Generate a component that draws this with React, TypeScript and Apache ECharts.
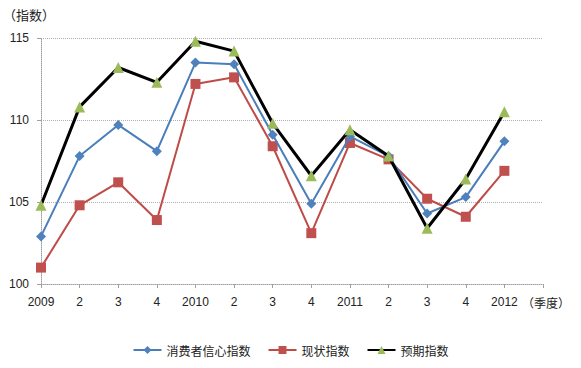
import React, { useEffect, useRef } from "react";
import * as echarts from "echarts";

const categories = ["2009", "2", "3", "4", "2010", "2", "3", "4", "2011", "2", "3", "4", "2012", ""];
const consumerConfidence = [102.9, 107.8, 109.7, 108.1, 113.5, 113.4, 109.1, 104.9, 109.0, 107.8, 104.3, 105.3, 108.7];
const currentIndex = [101.0, 104.8, 106.2, 103.9, 112.2, 112.6, 108.4, 103.1, 108.6, 107.6, 105.2, 104.1, 106.9];
const expectedIndex = [104.8, 110.8, 113.2, 112.3, 114.8, 114.2, 109.8, 106.6, 109.4, 107.8, 103.4, 106.4, 110.5];
const seriesNames = ["消费者信心指数", "现状指数", "预期指数"];
const yTicks = { min: 100, max: 115, interval: 5 };

const FONT = "'Liberation Sans', 'Noto Sans CJK SC', sans-serif";
const CJK = "'Noto Sans CJK SC', sans-serif";

export default function App() {
  const ref = useRef<HTMLDivElement>(null);
  useEffect(() => {
    if (!ref.current) return;
    const chart = echarts.init(ref.current, undefined, { renderer: "svg" });
    chart.setOption({
      animation: false,
      backgroundColor: "#ffffff",
      textStyle: { fontFamily: FONT },
      grid: { left: 41, right: 38, top: 38, bottom: 84, containLabel: false },
      graphic: [
        {
          type: "text",
          left: 3,
          top: 8,
          style: { text: "（指数）", font: `13px ${CJK}`, fill: "#222" },
        },
        {
          type: "text",
          left: 522,
          top: 296,
          style: { text: "（季度）", font: `12px ${CJK}`, fill: "#222" },
        },
      ],
      legend: {
        bottom: 7,
        left: "center",
        itemWidth: 28,
        itemHeight: 10,
        itemGap: 17,
        textStyle: { fontSize: 12, color: "#222", fontFamily: CJK },
        data: seriesNames,
      },
      xAxis: {
        type: "category",
        data: categories,
        boundaryGap: false,
        axisLine: { show: true, lineStyle: { color: "#a0a0a0", type: "dotted", width: 1 } },
        axisTick: { show: true, length: 4, lineStyle: { color: "#a0a0a0" } },
        axisLabel: { color: "#222", fontSize: 12, margin: 12, interval: 0 },
        splitLine: { show: false },
      },
      yAxis: {
        type: "value",
        min: yTicks.min,
        max: yTicks.max,
        interval: yTicks.interval,
        axisLine: { show: true, lineStyle: { color: "#a0a0a0", type: "dotted", width: 1 } },
        axisTick: { show: true, length: 4, lineStyle: { color: "#a0a0a0" } },
        axisLabel: { color: "#222", fontSize: 12, margin: 12 },
        splitLine: { show: true, lineStyle: { color: "#b0b0b0", type: "dotted", width: 1 } },
      },
      series: [
        {
          name: seriesNames[0],
          type: "line",
          data: consumerConfidence,
          symbol: "diamond",
          symbolSize: 10,
          lineStyle: { color: "#4a7ebb", width: 2 },
          itemStyle: { color: "#4f81bd" },
          z: 3,
        },
        {
          name: seriesNames[1],
          type: "line",
          data: currentIndex,
          symbol: "rect",
          symbolSize: 10,
          lineStyle: { color: "#be4b48", width: 2 },
          itemStyle: { color: "#c0504d" },
          z: 2,
        },
        {
          name: seriesNames[2],
          type: "line",
          data: expectedIndex,
          symbol: "triangle",
          symbolSize: 11,
          lineStyle: { color: "#000000", width: 3 },
          itemStyle: { color: "#9bbb59" },
          z: 4,
        },
      ],
    });
    return () => chart.dispose();
  }, []);
  return (
    <div
      ref={ref}
      style={{ position: "absolute", left: 0, top: 0, width: 581, height: 368 }}
    />
  );
}
